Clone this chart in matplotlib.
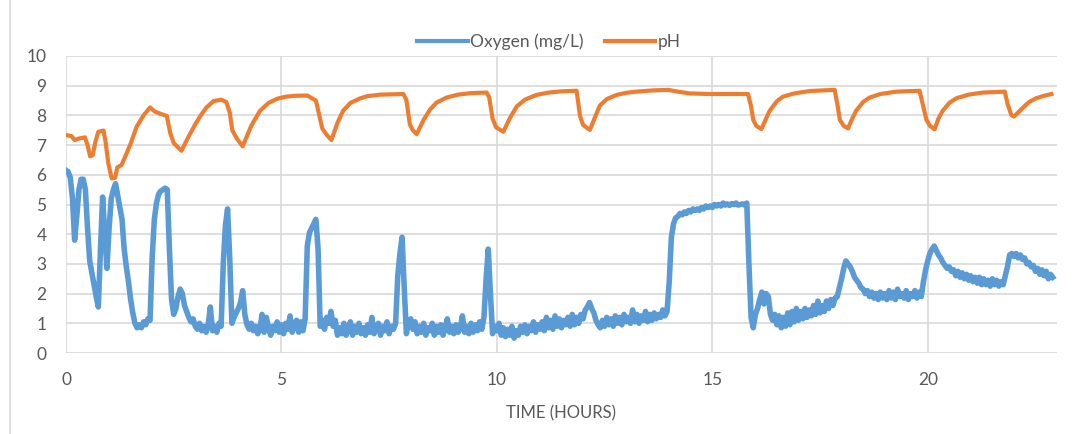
import numpy as np
import matplotlib
matplotlib.use("Agg")
import matplotlib.pyplot as plt
from matplotlib.lines import Line2D

plt.rcParams['font.family'] = ['Lato', 'DejaVu Sans']

# dissolved oxygen, one reading every 0.05 h
sample_step = 0.05
oxygen = [
    # hour 0
    6.15, 6.10, 5.90, 5.20, 3.80, 4.60, 5.50, 5.85, 5.85, 5.50,
    4.20, 3.10, 2.70, 2.30, 1.90, 1.55, 3.50, 5.25, 4.00, 2.85,
    # hour 1
    4.20, 5.20, 5.50, 5.70, 5.30, 4.90, 4.50, 3.50, 2.90, 2.40,
    1.80, 1.35, 1.00, 0.85, 0.95, 0.85, 1.05, 0.95, 1.15, 1.10,
    # hour 2
    3.20, 4.50, 5.05, 5.35, 5.45, 5.50, 5.55, 5.50, 3.50, 1.80,
    1.30, 1.50, 1.90, 2.15, 2.00, 1.60, 1.40, 1.20, 1.05, 1.15,
    # hour 3
    0.90, 0.80, 1.00, 0.75, 0.90, 0.70, 0.95, 1.55, 0.75, 0.90,
    0.70, 1.00, 0.90, 3.00, 4.30, 4.85, 3.20, 1.00, 1.20, 1.35,
    # hour 4
    1.50, 1.70, 2.10, 1.30, 0.95, 0.80, 1.00, 0.75, 0.90, 0.65,
    0.80, 1.30, 0.70, 1.20, 0.85, 0.60, 0.90, 0.75, 1.05, 0.70,
    # hour 5
    0.95, 0.65, 1.00, 0.80, 1.25, 0.70, 0.95, 1.10, 0.70, 1.05,
    0.75, 1.15, 3.60, 4.05, 4.20, 4.35, 4.50, 3.50, 0.90, 1.10,
    # hour 6
    0.80, 1.20, 1.00, 1.40, 0.90, 1.10, 0.60, 0.85, 0.65, 1.00,
    0.60, 0.80, 1.05, 0.60, 0.90, 0.70, 1.00, 0.65, 0.85, 0.60,
    # hour 7
    0.95, 0.70, 1.20, 0.65, 0.85, 1.00, 0.60, 0.90, 0.75, 1.05,
    0.65, 0.90, 0.80, 1.00, 2.60, 3.35, 3.90, 2.20, 0.65, 1.05,
    # hour 8
    1.15, 0.80, 1.05, 0.65, 0.90, 0.70, 1.00, 0.60, 0.85, 0.75,
    1.00, 0.60, 0.90, 0.70, 0.95, 0.60, 0.85, 1.15, 0.70, 0.90,
    # hour 9
    0.65, 0.95, 0.70, 0.85, 1.25, 0.70, 0.90, 0.65, 1.00, 0.70,
    0.95, 0.75, 1.05, 0.80, 1.20, 2.50, 3.50, 2.00, 0.65, 0.90,
    # hour 10
    0.75, 1.00, 0.60, 0.85, 0.55, 0.80, 0.60, 0.90, 0.50, 0.75,
    0.60, 0.90, 0.70, 0.95, 0.65, 0.90, 0.75, 1.05, 0.70, 0.95,
    # hour 11
    0.80, 1.05, 0.75, 1.20, 0.85, 1.10, 0.80, 1.25, 0.90, 1.15,
    0.85, 1.10, 0.95, 1.20, 0.90, 1.30, 0.95, 1.20, 1.00, 1.30,
    # hour 12
    1.15, 1.45, 1.55, 1.70, 1.50, 1.35, 1.10, 0.95, 0.85, 1.10,
    0.90, 1.20, 0.95, 1.15, 0.90, 1.25, 1.00, 1.20, 0.95, 1.30,
    # hour 13
    1.05, 1.20, 1.00, 1.45, 1.05, 1.30, 1.00, 1.25, 1.10, 1.40,
    1.05, 1.30, 1.10, 1.35, 1.15, 1.30, 1.20, 1.45, 1.25, 1.40,
    # hour 14
    2.40, 3.90, 4.35, 4.55, 4.60, 4.70, 4.65, 4.75, 4.70, 4.80,
    4.75, 4.85, 4.80, 4.85, 4.80, 4.90, 4.85, 4.95, 4.90, 4.95,
    # hour 15
    4.90, 5.00, 4.95, 5.00, 4.95, 5.05, 4.98, 5.02, 4.97, 5.03,
    5.00, 5.05, 4.98, 5.00, 5.02, 4.98, 5.05, 3.00, 1.20, 0.85,
    # hour 16
    1.30, 1.50, 1.80, 2.05, 1.65, 2.00, 1.90, 1.30, 1.10, 1.30,
    0.95, 1.25, 0.85, 1.20, 0.90, 1.35, 0.95, 1.40, 1.05, 1.50,
    # hour 17
    1.10, 1.40, 1.15, 1.50, 1.20, 1.45, 1.25, 1.60, 1.30, 1.75,
    1.35, 1.60, 1.40, 1.75, 1.50, 1.80, 1.60, 1.85, 1.90, 2.20,
    # hour 18
    2.50, 2.85, 3.10, 3.00, 2.90, 2.75, 2.55, 2.45, 2.35, 2.20,
    2.15, 2.00, 2.10, 1.90, 2.05, 1.85, 2.00, 1.80, 2.05, 1.85,
    # hour 19
    2.00, 1.80, 2.10, 1.85, 2.05, 1.80, 2.15, 1.90, 2.00, 1.85,
    2.10, 1.80, 2.00, 1.90, 2.10, 1.85, 2.05, 1.90, 2.40, 2.80,
    # hour 20
    3.10, 3.35, 3.50, 3.60, 3.45, 3.30, 3.20, 3.05, 2.95, 2.85,
    2.90, 2.75, 2.80, 2.60, 2.75, 2.55, 2.70, 2.50, 2.65, 2.45,
    # hour 21
    2.60, 2.40, 2.55, 2.35, 2.55, 2.30, 2.50, 2.30, 2.45, 2.25,
    2.50, 2.30, 2.45, 2.25, 2.40, 2.30, 2.60, 2.90, 3.30, 3.35,
    # hour 22
    3.25, 3.35, 3.20, 3.30, 3.15, 3.20, 3.00, 3.05, 2.90, 2.95,
    2.75, 2.85, 2.65, 2.80, 2.60, 2.75, 2.50, 2.65, 2.55,
]
oxygen_hours = np.arange(len(oxygen)) * sample_step

# pH, read at irregular times
ph_hours = [
    0.0, 0.13, 0.2, 0.3, 0.44, 0.5, 0.56, 0.62, 0.68, 0.75, 0.87, 0.92, 0.98,
    1.06, 1.14, 1.19, 1.29, 1.4, 1.5, 1.64, 1.8, 1.95, 2.06, 2.2, 2.34, 2.42,
    2.5, 2.68, 2.85, 3.0, 3.11, 3.25, 3.42, 3.6, 3.72, 3.8, 3.86, 3.96, 4.1,
    4.3, 4.5, 4.7, 4.9, 5.1, 5.3, 5.6, 5.8, 5.88, 5.95, 6.05, 6.16, 6.3, 6.43,
    6.6, 6.82, 7.0, 7.3, 7.6, 7.83, 7.9, 7.98, 8.05, 8.14, 8.3, 8.45, 8.6,
    8.83, 9.1, 9.4, 9.76, 9.82, 9.9, 9.98, 10.15, 10.3, 10.46, 10.65, 10.92,
    11.2, 11.5, 11.85, 11.93, 12.0, 12.16, 12.28, 12.39, 12.55, 12.78, 13.0,
    13.24, 13.6, 13.97, 14.2, 14.48, 14.94, 15.83, 15.9, 15.95, 16.02, 16.14,
    16.25, 16.33, 16.5, 16.64, 16.9, 17.26, 17.84, 17.9, 17.96, 18.05, 18.15,
    18.25, 18.34, 18.5, 18.65, 18.9, 19.27, 19.81, 19.88, 19.97, 20.05, 20.16,
    20.25, 20.35, 20.5, 20.67, 20.95, 21.28, 21.79, 21.85, 21.94, 22.0, 22.1,
    22.21, 22.35, 22.52, 22.7, 22.87,
]
ph = [
    7.34, 7.30, 7.17, 7.22, 7.26, 7.0, 6.62, 6.66, 7.1, 7.45, 7.49, 7.1, 6.4,
    5.88, 5.9, 6.25, 6.33, 6.7, 7.05, 7.62, 8.0, 8.27, 8.13, 8.05, 7.98, 7.4,
    7.07, 6.81, 7.3, 7.7, 7.96, 8.25, 8.48, 8.53, 8.45, 8.1, 7.5, 7.23, 6.96,
    7.65, 8.15, 8.42, 8.56, 8.63, 8.66, 8.67, 8.5, 8.0, 7.55, 7.35, 7.17, 7.75, 8.15,
    8.42, 8.57, 8.65, 8.70, 8.71, 8.72, 8.52, 7.7, 7.5, 7.37, 7.85, 8.2, 8.43,
    8.6, 8.7, 8.75, 8.77, 8.62, 7.9, 7.6, 7.45, 7.9, 8.3, 8.53, 8.69,
    8.77, 8.81, 8.83, 7.98, 7.68, 7.51, 7.95, 8.33, 8.55, 8.69, 8.76,
    8.80, 8.84, 8.86, 8.80, 8.74, 8.72, 8.72, 8.3, 7.85, 7.65, 7.54,
    7.9, 8.15, 8.48, 8.63, 8.74, 8.82, 8.86, 8.4, 7.85, 7.65, 7.56,
    7.9, 8.16, 8.45, 8.6, 8.72, 8.8, 8.83, 8.4, 7.85, 7.65, 7.53,
    7.9, 8.16, 8.42, 8.58, 8.7, 8.77, 8.8, 8.4, 8.01, 7.96, 8.1,
    8.26, 8.45, 8.58, 8.66, 8.72,
]

x_ticks = [0, 5, 10, 15, 20]
y_ticks = list(range(0, 11))

blue = '#5b9bd5'
orange = '#ed7d31'
grid_c = '#d9d9d9'
text_c = '#595959'

fig = plt.figure(figsize=(10.8, 4.34), dpi=100)
ax = fig.add_axes([66 / 1080, 1 - 353 / 434, (1057 - 66) / 1080, (353 - 56) / 434])

ax.plot(oxygen_hours, oxygen, color=blue, lw=4.0, solid_joinstyle='round', label='Oxygen (mg/L)')
ax.plot(ph_hours, ph, color=orange, lw=3.0, solid_joinstyle='round', label='pH')

ax.set_xlim(0, 23)
ax.set_ylim(0, 10)
ax.set_xticks(x_ticks)
ax.set_yticks(y_ticks)
ax.grid(True, color=grid_c, lw=1.2)
ax.set_axisbelow(True)
for s in ax.spines.values():
    s.set_visible(False)
ax.tick_params(length=0, labelsize=12.5, labelcolor=text_c, pad=14)
ax.set_xlabel('TIME (HOURS)', fontsize=12, color=text_c, labelpad=12)

handles = [Line2D([], [], color=blue, lw=3), Line2D([], [], color=orange, lw=3)]
fig.legend(handles, ['Oxygen (mg/L)', 'pH'], loc='center', bbox_to_anchor=(549 / 1080, 1 - 42 / 434),
           ncol=2, frameon=False, fontsize=12.5, handlelength=2.9, handletextpad=0.15,
           columnspacing=1.2, labelcolor=text_c)

# light frame line on the left edge of the chart area
fig.add_artist(Line2D([10 / 1080, 10 / 1080], [0, 1], color=grid_c, lw=1.2))

fig.savefig('out.png', dpi=100, facecolor='white')
